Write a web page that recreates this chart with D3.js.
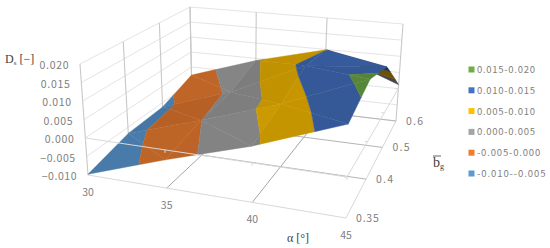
<!DOCTYPE html>
<html>
<head>
<meta charset="utf-8">
<script src="https://cdn.jsdelivr.net/npm/d3@7"></script>
<style>
  body { margin: 0; background: #fff; }
  text { font-family: "Noto Sans CJK JP", "Noto Sans", sans-serif; fill: #808080; }
  .serif { font-family: "Liberation Serif", serif; fill: #404040; }
</style>
</head>
<body>
<div id="chart"></div>
<script>
// categories
var alphaLabels = ['30', '35', '40', '45'];
var bgLabels = ['0.35', '0.4', '0.5', '0.6'];
var zTicks = [-0.01, -0.005, 0, 0.005, 0.01, 0.015, 0.02];

// D_s values, one list per bg row
var rowB035 = [-0.0098, -0.0026, 0.0042, 0.0129];
var rowB040 = [-0.0068, -0.0001, 0.0072, 0.0166];
var rowB050 = [-0.0063, 0.0008, 0.0112, 0.0132];
var rowB060 = [-0.0027, 0.0043, 0.0099, 0.0012];
var rows = [rowB035, rowB040, rowB050, rowB060];

// colour bands
var bandEdges = [-0.01, -0.005, 0, 0.005, 0.01, 0.015, 0.02];
var bandLabels = ['-0.010--0.005', '-0.005-0.000', '0.000-0.005', '0.005-0.010', '0.010-0.015', '0.015-0.020'];
var bandColors = ['#5b9bd5', '#ed7d31', '#a5a5a5', '#ffc000', '#4472c4', '#70ad47'];

var width = 550, height = 248;

// box corners on screen: front-left, front-right, back-right, back-left
var floorQuad = [[88, 175], [346, 218], [396, 121], [192, 97]];
var topQuad = [[80, 64], [349, 95], [403, 24], [190, 7]];

function homography(q) {
    var dx1 = q[1][0] - q[2][0], dx2 = q[3][0] - q[2][0], sx = q[0][0] - q[1][0] + q[2][0] - q[3][0];
    var dy1 = q[1][1] - q[2][1], dy2 = q[3][1] - q[2][1], sy = q[0][1] - q[1][1] + q[2][1] - q[3][1];
    var den = dx1 * dy2 - dx2 * dy1;
    var g = (sx * dy2 - dx2 * sy) / den, h = (dx1 * sy - sx * dy1) / den;
    var a = q[1][0] - q[0][0] + g * q[1][0], b = q[3][0] - q[0][0] + h * q[3][0];
    var d = q[1][1] - q[0][1] + g * q[1][1], e = q[3][1] - q[0][1] + h * q[3][1];
    return function (u, v) {
        var w = g * u + h * v + 1;
        return [(a * u + b * v + q[0][0]) / w, (d * u + e * v + q[0][1]) / w];
    };
}
var floorH = homography(floorQuad), topH = homography(topQuad);

// scales into the unit box
var uScale = d3.scalePoint().domain(alphaLabels).range([0, 1]);
var vScale = d3.scalePoint().domain(bgLabels).range([0, 1]);
var wScale = d3.scaleLinear().domain([-0.01, 0.02]).range([0, 1]);

function project(u, v, z) {
    var w = wScale(z), f = floorH(u, v), t = topH(u, v);
    return [f[0] + (t[0] - f[0]) * w, f[1] + (t[1] - f[1]) * w];
}

var svg = d3.select('#chart').append('svg').attr('width', width).attr('height', height);
var line = d3.line();

function seg(g, a, b, color, w) {
    g.append('path').attr('d', line([a, b])).attr('stroke', color)
        .attr('stroke-width', w).attr('fill', 'none');
}

// walls and floor
var walls = svg.append('g');
zTicks.forEach(function (z) {
    seg(walls, project(0, 0, z), project(0, 1, z), '#e4e4e4', 1);
    seg(walls, project(0, 1, z), project(1, 1, z), '#e4e4e4', 1);
});
bgLabels.forEach(function (b) {
    seg(walls, project(0, vScale(b), -0.01), project(0, vScale(b), 0.02), '#c8c8c8', 1.1);
});
alphaLabels.forEach(function (a) {
    seg(walls, project(uScale(a), 1, -0.01), project(uScale(a), 1, 0.02), '#c8c8c8', 1.1);
});
var floorG = svg.append('g');
alphaLabels.forEach(function (a, i) {
    seg(floorG, project(uScale(a), 0, -0.01), project(uScale(a), 1, -0.01), (i == 0 || i == 3) ? '#d8d8d8' : '#a6a6a6', 1);
});
bgLabels.forEach(function (b, i) {
    seg(floorG, project(0, vScale(b), -0.01), project(1, vScale(b), -0.01), i == 0 ? '#d8d8d8' : '#b4b4b4', 1);
});

// split each grid cell in two triangles, back rows first
var tris = [];
d3.range(rows.length - 2, -1, -1).forEach(function (j) {
    d3.range(0, alphaLabels.length - 1).forEach(function (i) {
        var n = function (ii, jj) {
            return { u: uScale(alphaLabels[ii]), v: vScale(bgLabels[jj]), z: rows[jj][ii] };
        };
        tris.push([n(i + 1, j + 1), n(i, j + 1), n(i + 1, j)]);
        tris.push([n(i, j + 1), n(i, j), n(i + 1, j)]);
    });
});

function clip(poly, z0, keepAbove) {
    var out = [];
    poly.forEach(function (p, k) {
        var q = poly[(k + 1) % poly.length];
        var pIn = keepAbove ? p.z >= z0 : p.z <= z0;
        var qIn = keepAbove ? q.z >= z0 : q.z <= z0;
        if (pIn) out.push(p);
        if (pIn != qIn) {
            var t = (z0 - p.z) / (q.z - p.z);
            out.push({ u: p.u + (q.u - p.u) * t, v: p.v + (q.v - p.v) * t, z: z0 });
        }
    });
    return out;
}

function facetShade(t) {
    var scale = 0.55 / 0.03; // height of the box against its depth
    var a = [t[1].u - t[0].u, t[1].v - t[0].v, (t[1].z - t[0].z) * scale];
    var b = [t[2].u - t[0].u, t[2].v - t[0].v, (t[2].z - t[0].z) * scale];
    var n = [a[1] * b[2] - a[2] * b[1], a[2] * b[0] - a[0] * b[2], a[0] * b[1] - a[1] * b[0]];
    var len = Math.sqrt(n[0] * n[0] + n[1] * n[1] + n[2] * n[2]);
    if (n[2] < 0) len = -len;
    var light = (n[0] * 0.35 - n[1] * 0.6 + n[2] * 0.75) / len;
    return 0.47 + 0.5 * light;
}

function facing(t) {
    var p = t.map(function (d) { return project(d.u, d.v, d.z); });
    return (p[1][0] - p[0][0]) * (p[2][1] - p[0][1]) - (p[1][1] - p[0][1]) * (p[2][0] - p[0][0]);
}

var surface = svg.append('g');
tris.forEach(function (t) {
    var under = facing(t) > 0;
    var k = under ? 0.42 : facetShade(t);
    bandColors.forEach(function (color, b) {
        var poly = clip(clip(t, bandEdges[b], true), bandEdges[b + 1], false);
        if (poly.length < 3) return;
        var c = d3.rgb(color);
        var fill = d3.rgb(c.r * k, c.g * k, c.b * k);
        surface.append('path')
            .attr('d', line(poly.map(function (d) { return project(d.u, d.v, d.z); })) + 'Z')
            .attr('fill', fill).attr('stroke', fill).attr('stroke-width', 0.4);
    });
});

// category axes cross at z = 0, in front of the surface
var axes = svg.append('g');
seg(axes, project(0, 0, 0), project(1, 0, 0), '#d9d9d9', 1);
seg(axes, project(1, 0, 0), project(1, 1, 0), '#d9d9d9', 1);
alphaLabels.forEach(function (a) {
    var p = project(uScale(a), 0, 0);
    seg(axes, p, [p[0], p[1] + 3], '#d9d9d9', 1);
});
bgLabels.forEach(function (b) {
    var p = project(1, vScale(b), 0);
    seg(axes, p, [p[0] - 3, p[1]], '#d9d9d9', 1);
});

// tick labels
var zFormat = d3.format('.3f');
svg.append('g').selectAll('text').data(zTicks).enter().append('text')
    .attr('x', function (d) { return project(0, 0, d)[0] - 11.5; })
    .attr('y', function (d) { return project(0, 0, d)[1] + 5; })
    .attr('text-anchor', 'end')
    .attr('font-size', 10.5)
    .text(function (d) { return zFormat(d); })
    .attr('textLength', function (d) { return zFormat(d).length * 5.8; });

svg.append('g').selectAll('text').data(alphaLabels).enter().append('text')
    .attr('x', function (d) { return project(uScale(d), 0, -0.01)[0]; })
    .attr('y', function (d) { return project(uScale(d), 0, -0.01)[1] + 21; })
    .attr('text-anchor', 'middle')
    .attr('font-size', 10.5)
    .text(function (d) { return d; });

svg.append('g').selectAll('text').data(bgLabels).enter().append('text')
    .attr('x', function (d) { return project(1, vScale(d), -0.01)[0] + 10; })
    .attr('y', function (d) { return project(1, vScale(d), -0.01)[1] + 4; })
    .attr('font-size', 10.5)
    .text(function (d) { return d; })
    .attr('textLength', function (d) { return d.length * 5.7; });

// axis titles
var dsTitle = svg.append('text').attr('class', 'serif').attr('x', 5).attr('y', 63).attr('font-size', 12);
dsTitle.append('tspan').text('D');
dsTitle.append('tspan').attr('font-size', 7).attr('dy', 2).text('s');
dsTitle.append('tspan').attr('dy', -2).attr('dx', 3).text('[−]');

svg.append('text').attr('class', 'serif').attr('x', 287).attr('y', 242).attr('font-size', 12).text('α [°]');

var bgTitle = svg.append('text').attr('class', 'serif').attr('x', 433).attr('y', 167).attr('font-size', 14);
bgTitle.append('tspan').text('b');
bgTitle.append('tspan').attr('font-size', 8).attr('dy', 2).text('g');
svg.append('line').attr('x1', 433).attr('x2', 441).attr('y1', 156).attr('y2', 156)
    .attr('stroke', '#404040').attr('stroke-width', 0.8);

// legend, highest band on top
var legendY = d3.scalePoint().domain(d3.reverse(bandLabels.slice())).range([69.5, 173.5]);
var legend = svg.append('g').selectAll('g').data(bandLabels).enter().append('g')
    .attr('transform', function (d) { return 'translate(468,' + legendY(d) + ')'; });
legend.append('rect').attr('x', 0.5).attr('y', -3).attr('width', 6).attr('height', 6)
    .attr('fill', function (d, i) { return bandColors[i]; });
legend.append('text').attr('x', 9).attr('y', 3.5).attr('font-size', 9.5)
    .text(function (d) { return d; })
    .attr('textLength', function (d) { return d.length * 5.27; });
</script>
</body>
</html>
